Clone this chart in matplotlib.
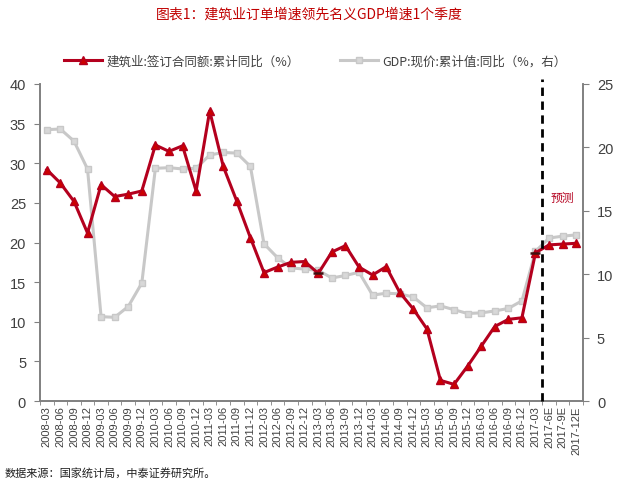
import matplotlib
matplotlib.use("Agg")
import matplotlib.pyplot as plt
import numpy as np

plt.rcParams['font.family'] = ['Noto Sans CJK SC', 'DejaVu Sans']

categories = ["2008-03", "2008-06", "2008-09", "2008-12", "2009-03", "2009-06", "2009-09", "2009-12",
              "2010-03", "2010-06", "2010-09", "2010-12", "2011-03", "2011-06", "2011-09", "2011-12",
              "2012-03", "2012-06", "2012-09", "2012-12", "2013-03", "2013-06", "2013-09", "2013-12",
              "2014-03", "2014-06", "2014-09", "2014-12", "2015-03", "2015-06", "2015-09", "2015-12",
              "2016-03", "2016-06", "2016-09", "2016-12", "2017-03", "2017-6E", "2017-9E", "2017-12E"]

construction = [29.2, 27.5, 25.2, 21.2, 27.3, 25.8, 26.1, 26.5,
                32.3, 31.5, 32.2, 26.5, 36.6, 29.6, 25.2, 20.6,
                16.2, 16.9, 17.5, 17.6, 16.1, 18.8, 19.6, 16.9,
                15.9, 16.95, 13.7, 11.6, 9.1, 2.6, 2.1, 4.4,
                6.9, 9.4, 10.3, 10.5, 18.7, 19.7, 19.8, 19.9]

gdp = [21.4, 21.45, 20.5, 18.3, 6.65, 6.6, 7.45, 9.3,
       18.35, 18.4, 18.3, 18.35, 19.4, 19.6, 19.55, 18.5,
       12.4, 11.3, 10.5, 10.4, 10.3, 9.7, 9.9, 10.15,
       8.35, 8.5, 8.45, 8.2, 7.35, 7.5, 7.2, 6.9,
       6.95, 7.1, 7.3, 7.9, 11.8, 12.85, 13.0, 13.1]

left_ticks = [0, 5, 10, 15, 20, 25, 30, 35, 40]
right_ticks = [0, 5, 10, 15, 20, 25]

title = "图表1：建筑业订单增速领先名义GDP增速1个季度"
label_c = "建筑业:签订合同额:累计同比（%）"
label_g = "GDP:现价:累计值:同比（%，右）"
source = "数据来源：国家统计局，中泰证券研究所。"
forecast = "预测"

RED = "#B4001E"
GREY = "#C8C8C8"
AXC = "#808080"
TXT = "#404040"
LAT = ['Liberation Sans', 'DejaVu Sans']

fig = plt.figure(figsize=(6.19, 4.85), dpi=100)
ax = fig.add_axes([40/619, 1-402/485, (583-40)/619, (402-85)/485])
ax2 = ax.twinx()

x = np.arange(len(categories))

lg, = ax2.plot(x, gdp, color=GREY, lw=2.2, marker='s', ms=4.5, mec=GREY, mfc="#D8D8D8", zorder=2)
lc, = ax.plot(x, construction, color=RED, lw=2.2, marker='^', ms=5.5, mec=RED, mfc="#CC0000", zorder=3)
ax.set_zorder(ax2.get_zorder() + 1)
ax.patch.set_visible(False)

# dash markers on two points
for i in (20, 36):
    ax.plot([x[i]], [construction[i]], marker='_', ms=7, mew=1.8, color="#401010", ls='none', zorder=4)

ax.set_xlim(-0.5, len(categories) - 0.5)
ax.set_ylim(0, 40)
ax2.set_ylim(0, 25)
ax.set_yticks(left_ticks)
ax2.set_yticks(right_ticks)
ax.set_xticks(x)
ax.set_xticklabels(categories, rotation=90, fontsize=8, color=TXT, family=LAT)
ax.set_xticks(np.arange(-0.5, len(categories), 1), minor=True)
ax.tick_params(axis='x', which='major', length=0, pad=3)
ax.tick_params(axis='x', which='minor', length=3, color=AXC, direction='out')
ax.tick_params(axis='y', length=4, color=AXC, labelsize=10.5, labelcolor=TXT, direction='out', pad=6)
ax2.tick_params(axis='y', length=4, color=AXC, labelsize=10.5, labelcolor=TXT, direction='out', pad=6)
for t in ax.get_yticklabels() + ax2.get_yticklabels():
    t.set_family(LAT)

for a in (ax, ax2):
    a.spines['top'].set_visible(False)
    for s in ('left', 'right', 'bottom'):
        a.spines[s].set_color(AXC)
        a.spines[s].set_linewidth(1.2)

ax.plot([36.5, 36.5], [0, 40.6], color='black', lw=2, ls=(0, (3, 2)), clip_on=False, zorder=5)
ax.text(38.0, 25.7, forecast, color=RED, fontsize=8.5, ha='center', va='center')

fig.text(0.5, 1-15/485, title, color="#C00000", fontsize=10, ha='center', va='center')
fig.legend([lc, lg], [label_c, label_g], loc='center', bbox_to_anchor=(0.51, 1-62/485),
           ncol=2, frameon=False, fontsize=9, labelcolor=TXT, handlelength=3, columnspacing=3.2,
           handletextpad=0.4)
fig.text(5/619, 1-473/485, source, color="#202020", fontsize=8, ha='left', va='center')

fig.savefig("out.png", dpi=100)
